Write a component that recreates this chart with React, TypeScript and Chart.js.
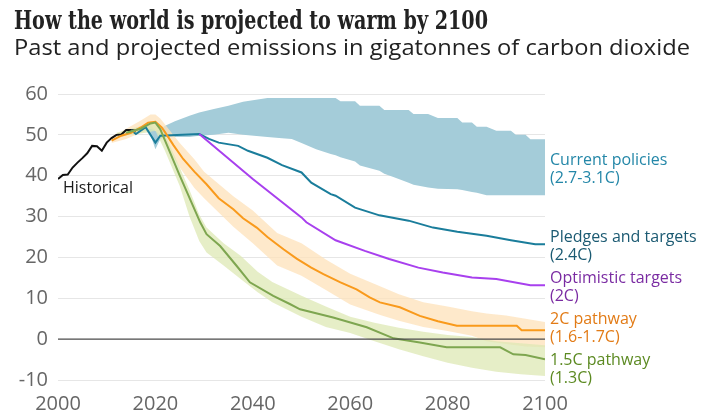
import React, { useEffect, useRef } from "react";
import { Chart, registerables } from "chart.js";
Chart.register(...registerables);

const titleText = "How the world is projected to warm by 2100";
const subtitleText = "Past and projected emissions in gigatonnes of carbon dioxide";

const xTicks = [2000, 2020, 2040, 2060, 2080, 2100];
const yTicks = [-10, 0, 10, 20, 30, 40, 50, 60];

const historicalYears = [2000, 2001, 2002, 2003, 2004, 2005, 2006, 2007, 2008, 2009, 2010, 2011, 2012, 2013, 2014, 2015, 2016];
const historicalValues = [39.2, 40.2, 40.3, 42, 43.2, 44.3, 45.5, 47.3, 47.2, 46.1, 48.1, 49.2, 50, 50.1, 51.2, 51.2, 51];

const currentYears = [2015, 2016, 2018, 2019, 2020, 2021, 2022, 2024, 2027, 2029, 2032, 2035, 2038, 2043, 2046, 2048, 2050, 2053, 2056, 2057, 2058, 2061, 2062, 2066, 2067, 2069, 2072, 2073, 2076, 2078, 2082, 2083, 2085, 2086, 2088, 2090, 2093, 2094, 2096, 2097, 2100];
const currentLow = [51, 50.5, 51, 50, 46.5, 49, 49.5, 49.5, 49.5, 49.8, 50, 50.5, 50, 49.5, 49.2, 49, 48, 46.5, 45.3, 45, 44.5, 43.5, 42.5, 41.2, 40.5, 39.6, 38.3, 37.8, 37.1, 36.8, 36.7, 36.5, 36, 35.8, 35.2, 35.2, 35.2, 35.2, 35.2, 35.2, 35.2];
const currentHigh = [51.3, 51.5, 52.5, 52.5, 51, 51.5, 52.2, 53.3, 54.7, 55.5, 56.3, 57.1, 58.1, 59, 59, 59, 59, 59, 59, 59, 58.2, 58.2, 57.1, 57.1, 56.1, 56.1, 56.1, 55.1, 55.1, 54.1, 54.1, 53, 53, 52, 52, 51, 51, 50, 50, 48.9, 48.9];

const pledgesYears = [2015, 2016, 2018, 2020, 2021, 2029, 2031, 2033, 2037, 2039, 2043, 2046, 2050, 2052, 2056, 2057, 2061, 2066, 2072, 2077, 2082, 2088, 2093, 2098, 2100];
const pledgesValues = [51.2, 50.2, 51.9, 48.1, 49.8, 50.2, 49, 48.1, 47.3, 46.1, 44.4, 42.6, 40.8, 38.3, 35.5, 35.1, 32.2, 30.3, 29, 27.3, 26.3, 25.3, 24.2, 23.2, 23.2];

const optimisticYears = [2029, 2040, 2050, 2051, 2057, 2063, 2068, 2074, 2079, 2085, 2090, 2097, 2100];
const optimisticValues = [50.2, 39.2, 29.8, 28.6, 24.2, 21.6, 19.6, 17.5, 16.3, 15.1, 14.7, 13.2, 13.2];

const twoCYears = [2011, 2013, 2015, 2017, 2018.5, 2020, 2021.3, 2022, 2023.7, 2025.7, 2028, 2030.5, 2033, 2036, 2038, 2040.8, 2043, 2046.3, 2049, 2052, 2054.5, 2058, 2061.3, 2064, 2066.1, 2070.2, 2074.3, 2078, 2081.9, 2094.2, 2095.2, 2100];
const twoCValues = [48.6, 49.8, 50.5, 51.8, 53, 53.2, 51.8, 50.6, 47.5, 44.1, 41, 37.9, 34.5, 31.8, 29.6, 27.3, 25, 22, 19.7, 17.5, 15.9, 13.9, 12.2, 10.2, 9.0, 7.8, 5.7, 4.4, 3.3, 3.3, 2.2, 2.2];
const twoCBandYears = [2011, 2014, 2017, 2019, 2020, 2021, 2023, 2025, 2028, 2030, 2033, 2036, 2040, 2045, 2050, 2055, 2060, 2066, 2070, 2075, 2080, 2085, 2088, 2092, 2096, 2100];
const twoCLow = [48, 49, 50.5, 51.5, 51, 50, 46, 42, 37, 34.5, 31, 27.5, 23.5, 18, 15.5, 12, 8.5, 6, 4.5, 3, 2, 0.8, -0.5, -1.2, -1.8, -2];
const twoCHigh = [49.5, 51.5, 53.5, 55, 55, 54, 51, 48, 44, 41, 38, 35, 31.5, 26, 23.5, 19.5, 16, 13, 11, 9, 8, 6.8, 6.3, 5.8, 5, 4.2];

const onePointFiveYears = [2014, 2017, 2019, 2020, 2021, 2025, 2029.2, 2030.5, 2033.3, 2036.7, 2039.4, 2044.2, 2047.6, 2049.7, 2056.5, 2063.4, 2068.9, 2074.3, 2079.8, 2090.8, 2093.5, 2096, 2100];
const onePointFiveValues = [50.5, 51.5, 52.8, 53, 51.4, 40, 28.6, 25.7, 22.8, 17.9, 13.9, 10.6, 8.6, 7.3, 5.3, 2.9, 0.2, -0.8, -2.0, -2.0, -3.7, -3.9, -4.9];
const onePointFiveBandYears = [2012, 2015, 2018, 2020, 2022, 2025, 2027, 2029, 2030.5, 2034, 2037.5, 2041, 2044, 2050, 2055, 2060, 2065, 2070, 2075, 2080, 2085, 2090, 2095, 2100];
const onePointFiveLow = [49.5, 50, 50.5, 51, 46, 37.5, 30, 24, 21.2, 18, 14.7, 11.5, 9, 5.5, 3, 1.5, -0.5, -2.5, -4.2, -5.8, -7, -8, -8.6, -9];
const onePointFiveHigh = [50.5, 51.5, 52.5, 53.5, 50, 42, 36.5, 30.5, 27.3, 23.5, 20.4, 16.5, 14, 10.6, 8, 5.5, 4, 2.8, 1.8, 1, 0.5, -0.5, -1, -1.5];

const seriesLabels = [
  { lines: ["Current policies", "(2.7-3.1C)"], color: "#2487a8", y: 165 },
  { lines: ["Pledges and targets", "(2.4C)"], color: "#1b5a72", y: 242 },
  { lines: ["Optimistic targets", "(2C)"], color: "#7a2ba2", y: 283 },
  { lines: ["2C pathway", "(1.6-1.7C)"], color: "#e27b16", y: 324 },
  { lines: ["1.5C pathway", "(1.3C)"], color: "#5c8a22", y: 365 },
];

const pts = (xs: number[], ys: number[]) => xs.map((x, i) => ({ x, y: ys[i] }));

const SANS = "'Open Sans', 'Noto Sans', sans-serif";

function fitText(ctx: any, text: string, font: string, x: number, y: number, width: number) {
  ctx.save();
  ctx.font = font;
  const w = ctx.measureText(text).width;
  ctx.translate(x, y);
  ctx.scale(width / w, 1);
  ctx.fillText(text, 0, 0);
  ctx.restore();
}

const textPlugin = {
  id: "texts",
  afterDatasetsDraw(chart: any) {
    const { ctx, chartArea, scales } = chart;
    const y0 = scales.y.getPixelForValue(0);
    ctx.save();
    ctx.strokeStyle = "#4a4a4a";
    ctx.lineWidth = 1.3;
    ctx.beginPath();
    ctx.moveTo(chartArea.left, y0);
    ctx.lineTo(chartArea.right, y0);
    ctx.stroke();
    ctx.restore();
  },
  afterDraw(chart: any) {
    const { ctx, chartArea } = chart;
    ctx.save();
    ctx.textBaseline = "alphabetic";
    ctx.textAlign = "left";
    ctx.fillStyle = "#222";
    fitText(ctx, titleText, "bold 26px 'DejaVu Serif Condensed', 'DejaVu Serif', serif", 14, 29, 474);
    fitText(ctx, subtitleText, `21px ${SANS}`, 14, 55, 676);
    ctx.font = `16px ${SANS}`;
    ctx.fillStyle = "#1a1a1a";
    ctx.fillText("Historical", 63, 193);
    ctx.font = `16px ${SANS}`;
    seriesLabels.forEach((l) => {
      ctx.fillStyle = l.color;
      l.lines.forEach((t, i) => ctx.fillText(t, chartArea.right + 5, l.y + i * 18));
    });
    ctx.restore();
  },
};

const line = (data: any, color: string, width = 2) => ({
  data,
  borderColor: color,
  borderWidth: width,
  pointRadius: 0,
  fill: false,
  order: 0,
  tension: 0,
});

export default function App() {
  const ref = useRef<HTMLCanvasElement>(null);
  useEffect(() => {
    const chart = new Chart(ref.current!, {
      type: "line",
      data: {
        datasets: [
          { data: pts(currentYears, currentLow), borderWidth: 0, pointRadius: 0, fill: false, order: 10 },
          { data: pts(currentYears, currentHigh), borderWidth: 0, pointRadius: 0, fill: "-1", backgroundColor: "#a4ccd9", order: 10 },
          { data: pts(twoCBandYears, twoCLow), borderWidth: 0, pointRadius: 0, fill: false, order: 9 },
          { data: pts(twoCBandYears, twoCHigh), borderWidth: 0, pointRadius: 0, fill: "-1", backgroundColor: "rgba(253,225,185,0.75)", order: 9 },
          { data: pts(onePointFiveBandYears, onePointFiveLow), borderWidth: 0, pointRadius: 0, fill: false, order: 8 },
          { data: pts(onePointFiveBandYears, onePointFiveHigh), borderWidth: 0, pointRadius: 0, fill: "-1", backgroundColor: "rgba(222,232,180,0.75)", order: 8 },
          line(pts(onePointFiveYears, onePointFiveValues), "#7ea650"),
          line(pts(twoCYears, twoCValues), "#f99a1c"),
          line(pts(optimisticYears, optimisticValues), "#a840ee"),
          line(pts(pledgesYears, pledgesValues), "#1a7d9b"),
          line(pts(historicalYears, historicalValues), "#111111"),
        ],
      },
      options: {
        animation: false,
        responsive: false,
        devicePixelRatio: 1,
        layout: { padding: { top: 94, right: 178, left: 0, bottom: 0 } },
        plugins: { legend: { display: false }, tooltip: { enabled: false }, title: { display: false } },
        scales: {
          x: {
            type: "linear",
            min: 2000,
            max: 2100,
            afterBuildTicks: (s: any) => { s.ticks = xTicks.map((v) => ({ value: v })); },
            afterFit: (s: any) => { s.height = 36; },
            grid: { display: false },
            border: { display: false },
            ticks: { color: "#666", font: { size: 20, family: SANS }, padding: 4, callback: (v: any) => String(v), maxRotation: 0 },
          },
          y: {
            min: -10,
            max: 60,
            afterBuildTicks: (s: any) => { s.ticks = yTicks.map((v) => ({ value: v })); },
            afterFit: (s: any) => { s.width = 58; },
            grid: { color: (c: any) => (c.tick && c.tick.value === 0 ? "rgba(0,0,0,0)" : "#e6e6e6"), drawTicks: false, lineWidth: 1 },
            border: { display: false },
            ticks: { color: "#666", font: { size: 20, family: SANS }, padding: 10, callback: (v: any) => String(v) },
          },
        },
      },
      plugins: [textPlugin],
    } as any);
    return () => chart.destroy();
  }, []);
  return (
    <div style={{ position: "fixed", left: 0, top: 0, width: 723, height: 416, background: "#fff" }}>
      <canvas ref={ref} width={723} height={416} />
    </div>
  );
}
